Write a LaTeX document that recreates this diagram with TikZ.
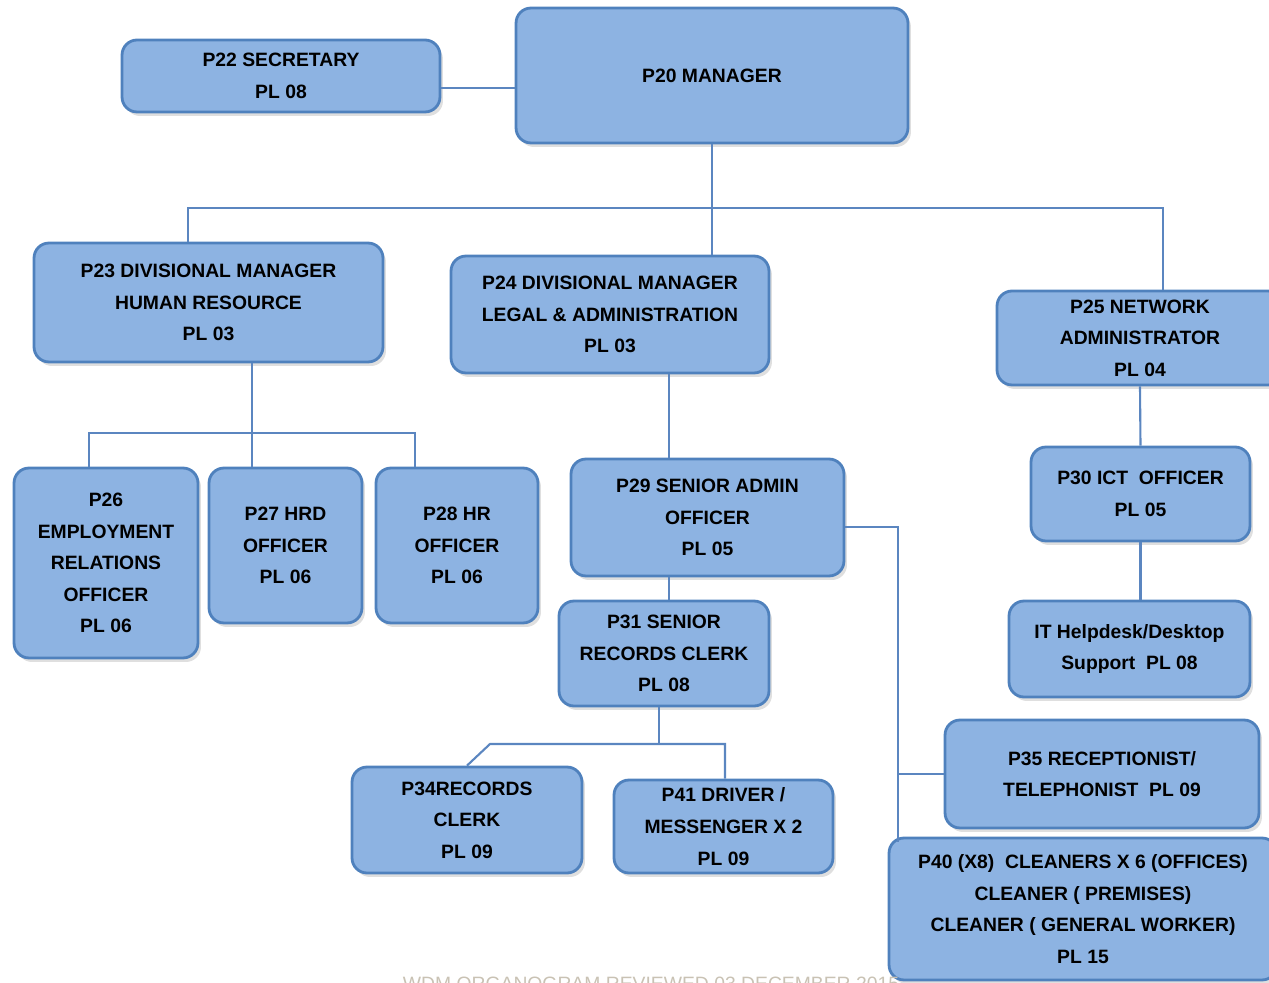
\documentclass[tikz,border=0pt]{standalone}
\usepackage{fontspec}
\setmainfont{Liberation Sans}
\usepackage{xcolor}
\definecolor{postfill}{HTML}{8DB3E2}
\definecolor{postdraw}{HTML}{4F81BD}
\definecolor{linkblue}{HTML}{5B86C0}
\definecolor{footgray}{HTML}{C9C2B4}
\usetikzlibrary{positioning, calc, shadows}

\begin{document}
\begin{tikzpicture}[
    x=0.02cm, y=-0.02cm,
    font=\bfseries\fontsize{11}{18}\selectfont,
    post/.style={draw=postdraw, fill=postfill, rounded corners=0.3cm, line width=1.6pt, align=center, inner sep=2pt,
      drop shadow={opacity=0.25, shadow xshift=0.06cm, shadow yshift=-0.08cm}},
    link/.style={draw=linkblue, line width=1.2pt}
  ]
    \useasboundingbox (0,0) rectangle (1269,983);
    \clip (0,0) rectangle (1269,983);

    % Top level
    \node[post, minimum width=7.84cm, minimum height=2.7cm] (p20) at (712,75.5) {P20 MANAGER};
    \node[post, minimum width=6.36cm, minimum height=1.44cm] (p22) at (281,76) {P22 SECRETARY\\PL 08};

    % Divisions
    \node[post, minimum width=6.98cm, minimum height=2.38cm] (p23) at (208.5,302.5) {P23 DIVISIONAL MANAGER\\HUMAN RESOURCE\\PL 03};
    \node[post, minimum width=6.36cm, minimum height=2.34cm] (p24) at (610,314.5) {P24 DIVISIONAL MANAGER\\LEGAL \& ADMINISTRATION\\PL 03};
    \node[post, minimum width=5.72cm, minimum height=1.88cm] (p25) at (1140,338) {P25 NETWORK\\ADMINISTRATOR\\PL 04};

    % Human resource
    \node[post, minimum width=3.68cm, minimum height=3.8cm] (p26) at (106,563) {P26\\EMPLOYMENT\\RELATIONS\\OFFICER\\PL 06};
    \node[post, minimum width=3.06cm, minimum height=3.1cm] (p27) at (285.5,545.5) {P27 HRD\\OFFICER\\PL 06};
    \node[post, minimum width=3.24cm, minimum height=3.1cm] (p28) at (457,545.5) {P28 HR\\OFFICER\\PL 06};

    % Legal & administration
    \node[post, minimum width=5.46cm, minimum height=2.34cm] (p29) at (707.5,517.5) {P29 SENIOR ADMIN\\OFFICER\\PL 05};
    \node[post, minimum width=4.2cm, minimum height=2.1cm] (p31) at (664,653.5) {P31 SENIOR\\RECORDS CLERK\\PL 08};
    \node[post, minimum width=4.6cm, minimum height=2.12cm] (p34) at (467,820) {P34RECORDS\\CLERK\\PL 09};
    \node[post, minimum width=4.38cm, minimum height=1.86cm] (p41) at (723.5,826.5) {P41 DRIVER /\\MESSENGER X 2\\PL 09};
    \node[post, minimum width=6.28cm, minimum height=2.16cm] (p35) at (1102,774) {P35 RECEPTIONIST/\\TELEPHONIST\ \ PL 09};
    \node[post, minimum width=7.76cm, minimum height=2.84cm] (p40) at (1083,909) {P40 (X8)\ \ CLEANERS X 6 (OFFICES)\\CLEANER ( PREMISES)\\CLEANER ( GENERAL WORKER)\\PL 15};

    % Network
    \node[post, minimum width=4.38cm, minimum height=1.88cm] (p30) at (1140.5,494) {P30 ICT\ \ OFFICER\\PL 05};
    \node[post, minimum width=4.82cm, minimum height=1.92cm] (it) at (1129.5,649) {IT Helpdesk/Desktop\\Support\ \ PL 08};

    % Junction points
    \coordinate (busl) at (188,208);
    \coordinate (busr) at (1163,208);
    \coordinate (hrc) at (252,433);
    \coordinate (hrl) at (89,433);
    \coordinate (hrr) at (415,433);
    \coordinate (adm) at (669,0);
    \coordinate (rcc) at (659,744);
    \coordinate (rcl) at (490,744);
    \coordinate (rcr) at (725,744);
    \coordinate (gen) at (898,0);

    \draw[link] ([yshift=-0.24cm]p22.east) -- ([yshift=-0.24cm]p22.east -| p20.west);
    \draw[link] (p20.south) -- (p20.south |- p24.north);
    \draw[link] (busl |- p23.north) -- (busl) -- (busr) -- (busr |- p25.north);

    \draw[link] (hrc |- p23.south) -- (hrc) -- (hrc |- p27.north);
    \draw[link] (hrl |- p26.north) -- (hrl) -- (hrr) -- (hrr |- p28.north);

    \draw[link] (adm |- p24.south) -- (adm |- p29.north);
    \draw[link] (adm |- p29.south) -- (adm |- p31.north);
    \draw[link] (rcc |- p31.south) -- (rcc);
    \draw[link] (p34.north) -- (rcl) -- (rcr) -- (rcr |- p41.north);
    \draw[link] ([yshift=-0.19cm]p29.east) -| ([yshift=-0.1cm]gen |- p40.north);
    \draw[link] (gen |- p35.west) -- (p35.west);

    \draw[link] (p25.south) -- (p30.north);
    \draw[link] (p30.south) -- (p30.south |- it.north);

    % Footer
    \node[font=\fontsize{11}{13}\selectfont, text=footgray] (foot) at (651,984) {WDM ORGANOGRAM REVIEWED 03 DECEMBER 2015};
  \end{tikzpicture}
\end{document}
